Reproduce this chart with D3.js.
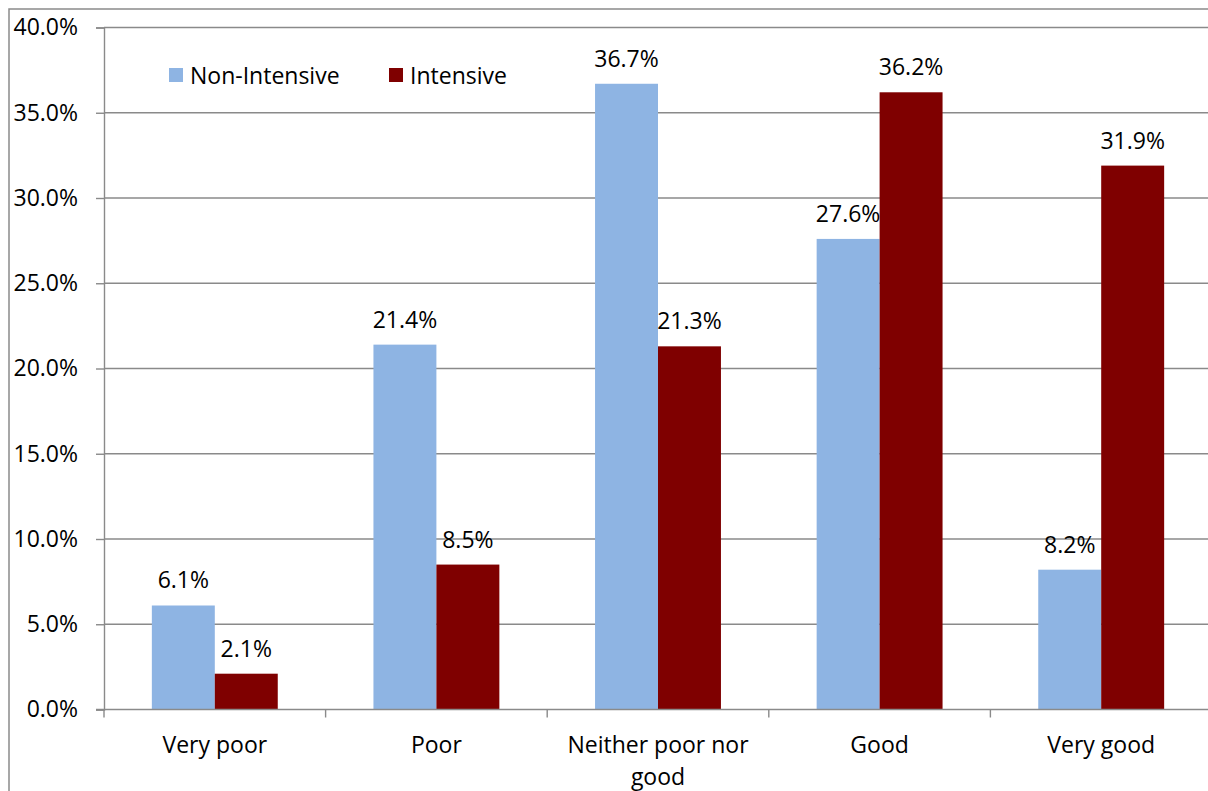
<!DOCTYPE html>
<html>
<head>
<meta charset="utf-8">
<script src="https://cdn.jsdelivr.net/npm/d3@7"></script>
<style>
  html, body { margin: 0; padding: 0; background: #fff; }
  svg { display: block; font-family: "Open Sans", "Noto Sans", sans-serif; }
</style>
</head>
<body>
<svg id="chart" width="1208" height="791"></svg>
<script>
// Self-rated health by group, percent of respondents
const categories = ["Very poor", "Poor", "Neither poor nor good", "Good", "Very good"];
const seriesNames = ["Non-Intensive", "Intensive"];
const nonIntensive = [6.1, 21.4, 36.7, 27.6, 8.2];
const intensive = [2.1, 8.5, 21.3, 36.2, 31.9];
const yTicks = [0, 5, 10, 15, 20, 25, 30, 35, 40];
const seriesColors = ["#8eb4e3", "#7f0000"];

const seriesValues = [nonIntensive, intensive];
const rows = categories.map((c, i) => ({
  category: c,
  values: seriesNames.map((s, j) => ({ series: s, value: seriesValues[j][i] }))
}));

const svg = d3.select("#chart");
const plot = { left: 104, right: 1212, top: 27.5, bottom: 709.5 };
const gridColor = "#8a8a8a";
const fontSize = "23px";

// Outer chart frame (extends past the visible canvas on the right and bottom)
svg.append("rect")
  .attr("x", 9).attr("y", 9)
  .attr("width", 1260).attr("height", 860)
  .attr("fill", "#fff")
  .attr("stroke", "#8a8a8a")
  .attr("stroke-width", 1.5);

const x0 = d3.scaleBand().domain(categories).range([plot.left, plot.right]).padding(0);
const x1 = d3.scaleBand().domain(seriesNames).range([0, x0.bandwidth()])
  .paddingInner(0).paddingOuter(0.76);
const y = d3.scaleLinear().domain([0, 40]).range([plot.bottom, plot.top]);
const color = d3.scaleOrdinal().domain(seriesNames).range(seriesColors);

// Horizontal gridlines
svg.append("g")
  .selectAll("line")
  .data(yTicks.filter(t => t > 0))
  .join("line")
  .attr("x1", plot.left).attr("x2", 1208)
  .attr("y1", d => y(d)).attr("y2", d => y(d))
  .attr("stroke", gridColor)
  .attr("stroke-width", 1.4);

// Y axis
const yAxis = svg.append("g")
  .attr("transform", `translate(${plot.left},0)`)
  .call(d3.axisLeft(y).tickValues(yTicks).tickSize(8).tickPadding(18)
    .tickFormat(d => d.toFixed(1) + "%"));
yAxis.select(".domain").attr("stroke", gridColor).attr("stroke-width", 1.4);
yAxis.selectAll(".tick line").attr("stroke", gridColor).attr("stroke-width", 1.4);
yAxis.selectAll(".tick text")
  .attr("fill", "#000")
  .style("font-size", fontSize)
  .style("font-family", "'Open Sans', sans-serif");

// Bars
const groups = svg.append("g")
  .selectAll("g")
  .data(rows)
  .join("g")
  .attr("transform", d => `translate(${x0(d.category)},0)`);

groups.selectAll("rect")
  .data(d => d.values)
  .join("rect")
  .attr("x", d => x1(d.series))
  .attr("width", x1.bandwidth())
  .attr("y", d => y(d.value))
  .attr("height", d => y(0) - y(d.value))
  .attr("fill", d => color(d.series));

// Value labels above bars
groups.selectAll("text.val")
  .data(d => d.values)
  .join("text")
  .attr("class", "val")
  .attr("x", d => x1(d.series) + x1.bandwidth() / 2)
  .attr("y", d => y(d.value) - 26)
  .attr("text-anchor", "middle")
  .attr("dominant-baseline", "central")
  .style("font-size", fontSize)
  .attr("fill", "#000")
  .text(d => d.value.toFixed(1) + "%");

// X axis
const xAxisG = svg.append("g");
xAxisG.append("line")
  .attr("x1", plot.left - 8).attr("x2", 1208)
  .attr("y1", plot.bottom).attr("y2", plot.bottom)
  .attr("stroke", gridColor).attr("stroke-width", 1.4);
xAxisG.selectAll("line.tick")
  .data(categories)
  .join("line")
  .attr("class", "tick")
  .attr("x1", d => x0(d)).attr("x2", d => x0(d))
  .attr("y1", plot.bottom).attr("y2", plot.bottom + 8)
  .attr("stroke", gridColor).attr("stroke-width", 1.4);

// Category labels, wrapped where the band is too narrow
const catLines = {
  "Neither poor nor good": ["Neither poor nor", "good"]
};
const catLabels = xAxisG.selectAll("text.cat")
  .data(categories)
  .join("text")
  .attr("class", "cat")
  .attr("text-anchor", "middle")
  .style("font-size", fontSize)
  .attr("fill", "#000");
catLabels.each(function (d) {
  const lines = catLines[d] || [d];
  const t = d3.select(this);
  lines.forEach((ln, i) => {
    t.append("tspan")
      .attr("x", x0(d) + x0.bandwidth() / 2)
      .attr("y", 744 + i * 32)
      .attr("dominant-baseline", "central")
      .text(ln);
  });
});

// Legend
const legendItems = [
  { name: seriesNames[0], x: 169 },
  { name: seriesNames[1], x: 389 }
];
const legend = svg.append("g")
  .selectAll("g")
  .data(legendItems)
  .join("g")
  .attr("transform", d => `translate(${d.x},68)`);
legend.append("rect")
  .attr("width", 14).attr("height", 14)
  .attr("fill", d => color(d.name));
legend.append("text")
  .attr("x", 21).attr("y", 7)
  .attr("dominant-baseline", "central")
  .style("font-size", fontSize)
  .attr("fill", "#000")
  .text(d => d.name);
</script>
</body>
</html>
